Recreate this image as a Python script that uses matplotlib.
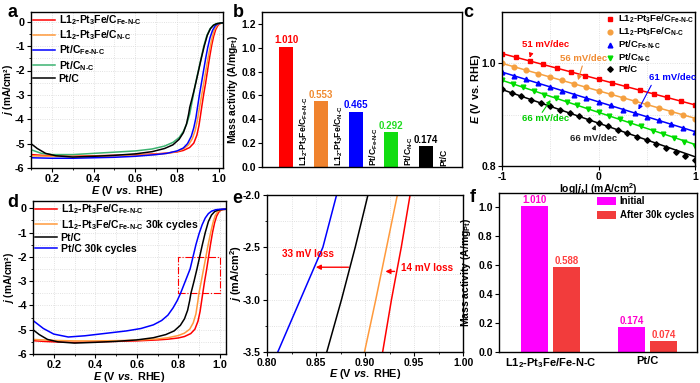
import numpy as np
import matplotlib
matplotlib.use("Agg")
import matplotlib.pyplot as plt
from matplotlib.patches import Rectangle
from matplotlib.ticker import MultipleLocator, FormatStrFormatter

plt.rcParams.update({
    "font.family": ["Liberation Sans", "DejaVu Sans"],
    "font.weight": "bold",
    "axes.labelweight": "bold",
    "axes.unicode_minus": False,
    "mathtext.fontset": "custom",
    "mathtext.rm": "Liberation Sans:bold",
    "mathtext.it": "Liberation Sans:italic:bold",
    "mathtext.bf": "Liberation Sans:bold",
    "mathtext.sf": "Liberation Sans:bold",
    "axes.linewidth": 1.0,
    "xtick.major.size": 3, "ytick.major.size": 3,
    "xtick.minor.size": 1.5, "ytick.minor.size": 1.5,
    "xtick.major.pad": 1.5, "ytick.major.pad": 1.5,
})

# ---------------- data ----------------
FENC = r"$_{\text{Fe-N-C}}$"
NC = r"$_{\text{N-C}}$"
L12 = r"L1$_2$-Pt$_3$Fe/C"

# polarisation curves (E in V, j in mA/cm2)
red_E = [0.10, 0.15, 0.20, 0.30, 0.40, 0.50, 0.60, 0.70, 0.75, 0.80, 0.83, 0.86, 0.88, 0.895,
         0.905, 0.912, 0.918, 0.927, 0.937, 0.946, 0.955, 0.965, 0.975, 0.985, 0.995, 1.005, 1.015, 1.03]
red_j = [-5.45, -5.48, -5.50, -5.52, -5.50, -5.48, -5.46, -5.42, -5.39, -5.34, -5.28, -5.16, -4.98, -4.65,
         -4.25, -3.85, -3.5, -3.0, -2.5, -2.0, -1.5, -1.0, -0.6, -0.32, -0.16, -0.08, -0.05, -0.04]

or30_E = [0.10, 0.2, 0.3, 0.4, 0.5, 0.6, 0.7, 0.75, 0.8, 0.83, 0.855, 0.872, 0.885, 0.894, 0.8995,
          0.911, 0.922, 0.933, 0.944, 0.956, 0.967, 0.978, 0.99, 1.0, 1.01, 1.03]
or30_j = [-5.40, -5.44, -5.46, -5.46, -5.45, -5.43, -5.38, -5.33, -5.24, -5.14, -4.98, -4.72, -4.35, -3.85, -3.5,
          -3.0, -2.5, -2.0, -1.5, -1.0, -0.6, -0.3, -0.14, -0.08, -0.05, -0.04]

ptc_E = [0.10, 0.13, 0.17, 0.22, 0.3, 0.4, 0.5, 0.6, 0.68, 0.74, 0.78, 0.81, 0.83, 0.845, 0.855, 0.861,
         0.876, 0.890, 0.903, 0.916, 0.930, 0.945, 0.96, 0.975, 0.99, 1.01, 1.03]
ptc_j = [-5.0, -5.2, -5.4, -5.5, -5.55, -5.52, -5.48, -5.42, -5.33, -5.2, -5.05, -4.82, -4.55, -4.2, -3.8, -3.5,
         -3.0, -2.5, -2.0, -1.5, -1.0, -0.55, -0.28, -0.14, -0.08, -0.05, -0.04]

ptc30_E = [0.10, 0.15, 0.2, 0.27, 0.35, 0.45, 0.55, 0.62, 0.68, 0.72, 0.75, 0.775, 0.795, 0.811, 0.834,
           0.857, 0.871, 0.885, 0.9, 0.915, 0.93, 0.945, 0.96, 0.98, 1.0, 1.03]
ptc30_j = [-4.62, -4.95, -5.18, -5.3, -5.25, -5.15, -5.05, -4.95, -4.8, -4.62, -4.4, -4.1, -3.8, -3.5, -3.0,
           -2.5, -2.0, -1.5, -1.05, -0.68, -0.4, -0.22, -0.12, -0.06, -0.04, -0.03]

lnc_E = [0.10, 0.2, 0.3, 0.4, 0.5, 0.6, 0.7, 0.75, 0.8, 0.83, 0.855, 0.873, 0.887, 0.897, 0.904, 0.911,
         0.920, 0.930, 0.939, 0.948, 0.958, 0.968, 0.978, 0.99, 1.0, 1.015, 1.03]
lnc_j = [-5.50, -5.52, -5.53, -5.52, -5.5, -5.48, -5.44, -5.4, -5.32, -5.22, -5.05, -4.8, -4.45, -4.05, -3.7, -3.35,
         -2.9, -2.4, -1.95, -1.5, -1.05, -0.65, -0.35, -0.16, -0.09, -0.05, -0.04]

pfe_E = [0.10, 0.2, 0.3, 0.4, 0.5, 0.6, 0.7, 0.75, 0.8, 0.83, 0.85, 0.868, 0.88, 0.89, 0.898, 0.907,
         0.917, 0.927, 0.937, 0.947, 0.958, 0.97, 0.983, 0.995, 1.01, 1.03]
pfe_j = [-5.58, -5.6, -5.6, -5.58, -5.56, -5.52, -5.45, -5.4, -5.3, -5.18, -5.0, -4.7, -4.35, -3.95, -3.5, -3.0,
         -2.5, -2.0, -1.5, -1.05, -0.65, -0.35, -0.16, -0.09, -0.05, -0.04]

pnc_E = [0.10, 0.15, 0.2, 0.3, 0.4, 0.5, 0.6, 0.68, 0.74, 0.78, 0.81, 0.83, 0.848, 0.86, 0.867, 0.878,
         0.889, 0.902, 0.915, 0.928, 0.942, 0.957, 0.972, 0.987, 1.0, 1.015, 1.03]
pnc_j = [-5.25, -5.4, -5.45, -5.45, -5.4, -5.35, -5.3, -5.22, -5.1, -4.95, -4.75, -4.5, -4.15, -3.8, -3.5, -3.0,
         -2.5, -2.0, -1.5, -1.0, -0.58, -0.3, -0.15, -0.08, -0.06, -0.05, -0.04]

# mass activity (panel b)
b_values = [1.010, 0.553, 0.465, 0.292, 0.174]
b_labels = [L12 + FENC, L12 + NC, "Pt/C" + FENC, "Pt/C" + NC, "Pt/C"]
b_colors = ["#FF0000", "#F0832E", "#0000FF", "#11DD11", "#000000"]
b_text_colors = ["#FF0000", "#F08A30", "#0000FF", "#22DD22", "#000000"]

# Tafel (panel c)
red_x = [-1.0, -0.86, -0.71, -0.57, -0.43, -0.29, -0.14, 0.0, 0.14, 0.29, 0.43, 0.57, 0.71, 0.86, 1.0]
red_t = [1.019, 1.012, 1.005, 0.998, 0.991, 0.984, 0.976, 0.969, 0.962, 0.955, 0.948, 0.941, 0.934, 0.926, 0.919]
or_x = [-1.0, -0.875, -0.75, -0.625, -0.5, -0.375, -0.25, -0.125, 0.0, 0.125, 0.25, 0.375, 0.5, 0.625, 0.75, 0.875, 1.0]
or_t = [1.000, 0.993, 0.987, 0.980, 0.973, 0.967, 0.960, 0.953, 0.947, 0.940, 0.933, 0.926, 0.920, 0.913, 0.906, 0.899, 0.892]
bl_x = or_x
bl_t = [0.984, 0.976, 0.969, 0.961, 0.954, 0.947, 0.939, 0.932, 0.925, 0.918, 0.910, 0.903, 0.896, 0.889, 0.881, 0.874, 0.866]
gr_x = [-1.0, -0.89, -0.78, -0.67, -0.56, -0.44, -0.33, -0.22, -0.11, 0.0, 0.11, 0.22, 0.33, 0.44, 0.56, 0.67, 0.78, 0.89, 1.0]
gr_t = [0.967, 0.960, 0.953, 0.946, 0.939, 0.932, 0.925, 0.918, 0.911, 0.905, 0.898, 0.891, 0.884, 0.877, 0.869, 0.862, 0.855, 0.847, 0.839]
bk_x = [-1.0, -0.9, -0.8, -0.7, -0.6, -0.5, -0.4, -0.3, -0.2, -0.1, 0.0, 0.1, 0.2, 0.3, 0.4, 0.5, 0.6, 0.7, 0.8, 0.9, 1.0]
bk_t = [0.950, 0.943, 0.936, 0.929, 0.922, 0.916, 0.910, 0.903, 0.897, 0.890, 0.884, 0.877, 0.870, 0.864, 0.857, 0.850, 0.843, 0.836, 0.828, 0.820, 0.811]
# fit lines: E at log|jk| = -1 and +1
fit_ends = {"red": (1.019, 0.919), "orange": (1.000, 0.893), "blue": (0.983, 0.867),
            "green": (0.967, 0.842), "black": (0.949, 0.818)}

# durability (panel f)
f_groups = [r"L1$_2$-Pt$_3$Fe/Fe-N-C", "Pt/C"]
f_initial = [1.010, 0.174]
f_after = [0.588, 0.074]

# ---------------- figure ----------------
W, H = 700, 383
fig = plt.figure(figsize=(7.0, 3.83), dpi=100)


def add_ax(l, r, t, b):
    return fig.add_axes([l / W, 1 - b / H, (r - l) / W, (b - t) / H])


def grid(ax):
    ax.grid(True, which="both", color="#d8d8d8", linestyle=":", linewidth=0.6)
    ax.set_axisbelow(True)


ORANGE = "#FF9A3C"
GREEN = "#3CB371"
TICK = 7.8
LAB = 7.8
JLAB = r"$j$ (mA/cm²)"

# ---- a ----
ax = add_ax(31, 223, 12, 168)
ax.plot(red_E, red_j, color="red", lw=1.1, label=L12 + FENC)
ax.plot(lnc_E, lnc_j, color=ORANGE, lw=1.1, label=L12 + NC)
ax.plot(pfe_E, pfe_j, color="blue", lw=1.1, label="Pt/C" + FENC)
ax.plot(pnc_E, pnc_j, color=GREEN, lw=1.1, label="Pt/C" + NC)
ax.plot(ptc_E, ptc_j, color="black", lw=1.1, label="Pt/C")
ax.set_xlim(0.1, 1.02)
ax.set_ylim(-6, 0.4)
ax.xaxis.set_major_locator(MultipleLocator(0.2))
ax.xaxis.set_minor_locator(MultipleLocator(0.1))
ax.yaxis.set_major_locator(MultipleLocator(1))
ax.yaxis.set_minor_locator(MultipleLocator(0.5))
ax.tick_params(labelsize=TICK)
grid(ax)
ax.set_xlabel(r"$E$ (V $vs.$ RHE)", fontsize=LAB)
ax.set_ylabel(JLAB, fontsize=7.3)
ax.xaxis.set_label_coords(0.5, -0.105)
ax.yaxis.set_label_coords(-0.082, 0.5)
ax.legend(loc="upper left", frameon=False, fontsize=7.5, handlelength=2.2, labelspacing=0.12,
          borderaxespad=0.0, borderpad=0.15, handletextpad=0.3)

# ---- b ----
ax = add_ax(262, 462, 12, 167)
xb = np.arange(1, len(b_values) + 1)
ax.bar(xb, b_values, width=0.4, color=b_colors)
for x, v, c, lab in zip(xb, b_values, b_text_colors, b_labels):
    ax.text(x, v + 0.012, f"{v:.3f}", color=c, ha="center", va="bottom", fontsize=7, fontweight="bold")
    ax.text(x + 0.5, 0.008, lab, rotation=90, ha="center", va="bottom", fontsize=6.2, fontweight="bold")
ax.set_xlim(0.31, 6.03)
ax.set_ylim(0, 1.3)
ax.set_xticks([])
ax.yaxis.set_major_locator(MultipleLocator(0.2))
ax.yaxis.set_major_formatter(FormatStrFormatter("%.1f"))
ax.tick_params(labelsize=7.5)
ax.set_ylabel(r"Mass activity (A/mg$_{\text{Pt}}$)", fontsize=7.5)
ax.yaxis.set_label_coords(-0.108, 0.5)

# ---- c ----
ax = add_ax(502, 695, 12, 166)
tafel = [(red_x, red_t, "red", "s", L12 + FENC, "red"),
         (or_x, or_t, "#F5A040", "o", L12 + NC, "orange"),
         (bl_x, bl_t, "blue", "^", "Pt/C" + FENC, "blue"),
         (gr_x, gr_t, "#00DD00", "v", "Pt/C" + NC, "green"),
         (bk_x, bk_t, "black", "D", "Pt/C", "black")]
for xs, ys, c, m, lab, key in tafel:
    ax.plot(xs, ys, linestyle="none", marker=m, color=c, markersize=3.4 if m != "D" else 2.8, label=lab)
    ax.plot([-1, 1], fit_ends[key], color=c, lw=1.1)
ax.set_xlim(-1, 1)
ax.set_ylim(0.8, 1.1)
ax.set_xticks([-1, 0, 1])
ax.set_yticks([0.8, 1.0])
ax.yaxis.set_minor_locator(MultipleLocator(0.1))
ax.xaxis.set_minor_locator(MultipleLocator(0.5))
ax.tick_params(which="minor", length=0)
ax.grid(True, which="both", color="#d8d8d8", linestyle=":", linewidth=0.6)
ax.tick_params(labelsize=7.5)
ax.set_xlabel(r"log|$j_k$| (mA/cm$^2$)", fontsize=7.5)
ax.set_ylabel(r"$E$ (V vs. RHE)", fontsize=7.8)
ax.xaxis.set_label_coords(0.5, -0.1)
ax.yaxis.set_label_coords(-0.1, 0.5)
ax.legend(loc="upper right", frameon=False, fontsize=6.8, handlelength=1.0, labelspacing=0.05,
          borderaxespad=0.0, borderpad=0.1, handletextpad=0.3)
ann = [("51 mV/dec", (-0.55, 1.037), (-0.70, 1.019), (-0.72, 1.006), "red"),
       ("56 mV/dec", (-0.15, 1.010), (-0.16, 1.000), (-0.22, 0.962), "#F08A30"),
       ("61 mV/dec", (0.77, 0.973), (0.56, 0.962), (0.40, 0.905), "blue"),
       ("66 mV/dec", (-0.55, 0.892), (-0.60, 0.900), (-0.48, 0.933), "#00CC00"),
       ("66 mV/dec", (-0.05, 0.854), (-0.06, 0.866), (-0.02, 0.885), "#222222")]
for txt, tpos, a0, a1, c in ann:
    ax.text(tpos[0], tpos[1], txt, color=c, fontsize=6.8, ha="center", va="center", fontweight="bold")
    ax.annotate("", xy=a1, xytext=a0,
                arrowprops=dict(arrowstyle="-|>", color=c, lw=0.8, mutation_scale=6))

# ---- d ----
ax = add_ax(33, 226, 201, 354)
ax.plot(red_E, red_j, color="red", lw=1.1, label=L12 + FENC)
ax.plot(or30_E, or30_j, color=ORANGE, lw=1.1, label=L12 + FENC + " 30k cycles")
ax.plot(ptc_E, ptc_j, color="black", lw=1.1, label="Pt/C")
ax.plot(ptc30_E, ptc30_j, color="blue", lw=1.1, label="Pt/C 30k cycles")
ax.add_patch(Rectangle((0.8, -3.5), 0.2, 1.5, fill=False, edgecolor="red", linestyle="-.", lw=0.8))
ax.set_xlim(0.1, 1.03)
ax.set_ylim(-6, 0.3)
ax.xaxis.set_major_locator(MultipleLocator(0.2))
ax.xaxis.set_minor_locator(MultipleLocator(0.1))
ax.yaxis.set_major_locator(MultipleLocator(1))
ax.yaxis.set_minor_locator(MultipleLocator(0.5))
ax.tick_params(labelsize=TICK)
grid(ax)
ax.set_xlabel(r"$E$ (V $vs.$ RHE)", fontsize=LAB)
ax.set_ylabel(JLAB, fontsize=7.3)
ax.xaxis.set_label_coords(0.5, -0.103)
ax.yaxis.set_label_coords(-0.09, 0.5)
ax.legend(loc="upper left", frameon=False, fontsize=7.5, handlelength=2.2, labelspacing=0.12,
          borderaxespad=0.0, borderpad=0.15, handletextpad=0.3)

# ---- e ----
ax = add_ax(267, 463, 195, 352)
ax.plot(ptc30_E, ptc30_j, color="blue", lw=1.1)
ax.plot(ptc_E, ptc_j, color="black", lw=1.1)
ax.plot(or30_E, or30_j, color=ORANGE, lw=1.1)
ax.plot(red_E, red_j, color="red", lw=1.1)
ax.set_xlim(0.8, 1.0)
ax.set_ylim(-3.5, -2.0)
ax.xaxis.set_major_locator(MultipleLocator(0.05))
ax.xaxis.set_minor_locator(MultipleLocator(0.025))
ax.xaxis.set_major_formatter(FormatStrFormatter("%.2f"))
ax.yaxis.set_major_locator(MultipleLocator(0.5))
ax.yaxis.set_minor_locator(MultipleLocator(0.25))
ax.yaxis.set_major_formatter(FormatStrFormatter("%.1f"))
ax.tick_params(labelsize=7.5)
grid(ax)
ax.set_xlabel(r"$E$ (V $vs.$ RHE)", fontsize=7.8)
ax.set_ylabel(r"$j$ (mA/cm$^2$)", fontsize=7.8)
ax.xaxis.set_label_coords(0.5, -0.095)
ax.yaxis.set_label_coords(-0.118, 0.5)
ax.annotate("", xy=(0.847, -2.69), xytext=(0.886, -2.69),
            arrowprops=dict(arrowstyle="-|>", color="red", lw=1.0, mutation_scale=7))
ax.annotate("", xy=(0.918, -2.73), xytext=(0.933, -2.73),
            arrowprops=dict(arrowstyle="-|>", color="red", lw=1.0, mutation_scale=7))
ax.text(0.842, -2.56, "33 mV loss", color="red", fontsize=7.2, ha="center", va="center", fontweight="bold")
ax.text(0.937, -2.70, "14 mV loss", color="red", fontsize=7.2, ha="left", va="center", fontweight="bold")

# ---- f ----
ax = add_ax(499, 697, 193, 352)
xf = np.arange(len(f_groups))
ax.bar(xf - 0.165, f_initial, width=0.27, color="#FF00FF", label="Initial")
ax.bar(xf + 0.165, f_after, width=0.27, color="#F23C3C", label="After 30k cycles")
for x, v in zip(xf - 0.165, f_initial):
    ax.text(x, v + 0.008, f"{v:.3f}", color="#FF00CC", ha="center", va="bottom", fontsize=7, fontweight="bold")
for x, v in zip(xf + 0.165, f_after):
    ax.text(x, v + 0.008, f"{v:.3f}", color="#FF4040", ha="center", va="bottom", fontsize=7, fontweight="bold")
ax.set_xlim(-0.53, 1.51)
ax.set_ylim(0, 1.1)
ax.set_xticks(xf)
ax.set_xticklabels(f_groups, fontsize=8)
ax.tick_params(axis="x", length=0, pad=3)
ax.yaxis.set_major_locator(MultipleLocator(0.2))
ax.yaxis.set_major_formatter(FormatStrFormatter("%.1f"))
ax.tick_params(axis="y", labelsize=7.5)
ax.set_ylabel(r"Mass activity (A/mg$_{\text{Pt}}$)", fontsize=7.5)
ax.yaxis.set_label_coords(-0.13, 0.5)
ax.legend(loc="upper right", frameon=False, fontsize=7, handlelength=2.0, handleheight=0.9,
          labelspacing=0.45, borderaxespad=0.0, borderpad=0.3, handletextpad=0.4)

# panel letters
for letter, px, py in [("a", 7, 17), ("b", 233, 17), ("c", 463, 17),
                       ("d", 7, 207), ("e", 232, 203), ("f", 470, 202)]:
    fig.text(px / W, 1 - py / H, letter, fontsize=13, fontweight="bold", va="baseline")

fig.savefig("out.png", dpi=100)
